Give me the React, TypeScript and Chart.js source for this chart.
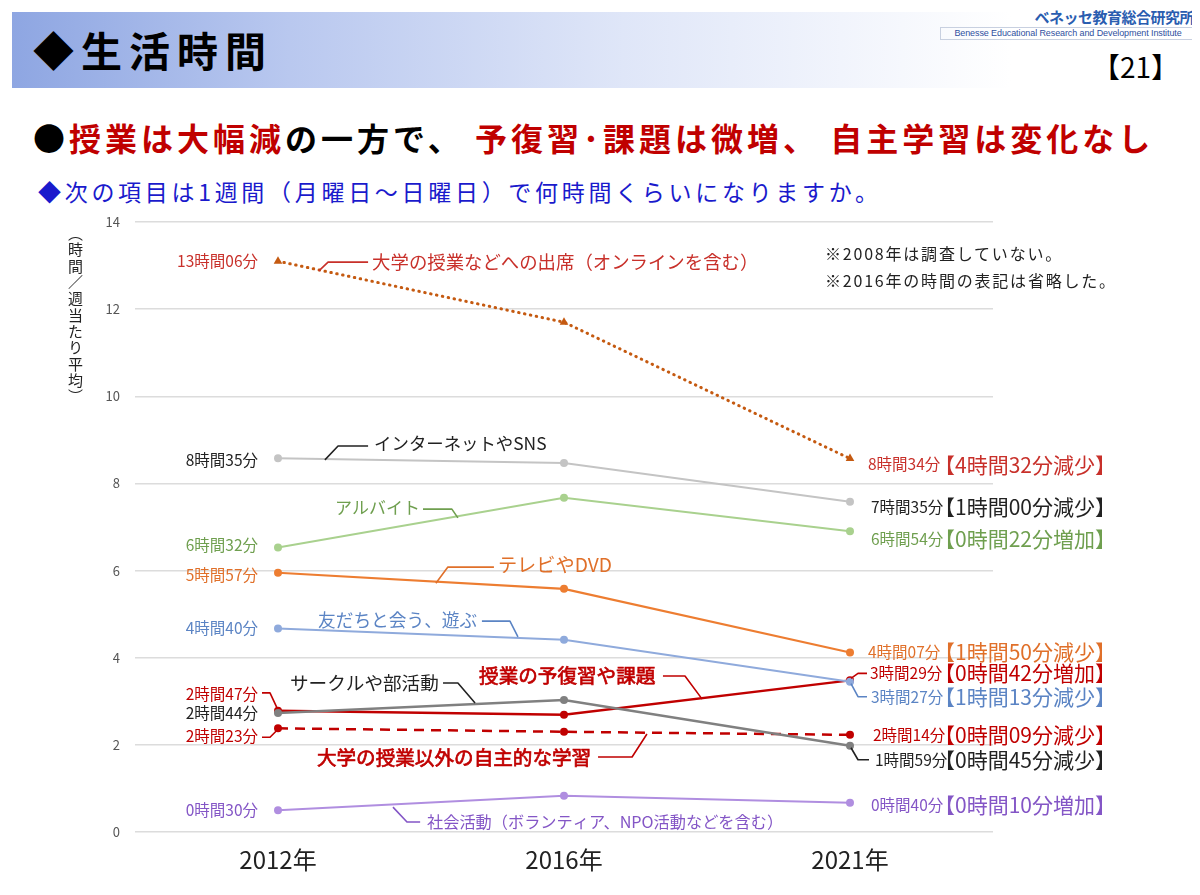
import React, { useEffect, useRef } from 'react';
import { Chart, registerables } from 'chart.js';

Chart.register(...registerables);

const FONT = "'Noto Sans CJK JP', 'Noto Sans', sans-serif";

// ---- data ----
const years = ['2012年', '2016年', '2021年'];
const yTickStep = 2;
const yMax = 14;

const seriesNames = [
  '大学の授業などへの出席（オンラインを含む）',
  'インターネットやSNS',
  'アルバイト',
  'テレビやDVD',
  '友だちと会う、遊ぶ',
  'サークルや部活動',
  '授業の予復習や課題',
  '大学の授業以外の自主的な学習',
  '社会活動（ボランティア、NPO活動などを含む）',
];
const attendance = [13.1, 11.7, 8.57];
const internet = [8.58, 8.47, 7.58];
const partTime = [6.53, 7.67, 6.9];
const tvDvd = [5.95, 5.58, 4.12];
const friends = [4.67, 4.41, 3.45];
const club = [2.73, 3.03, 1.98];
const homework = [2.78, 2.69, 3.48];
const selfStudy = [2.38, 2.3, 2.23];
const social = [0.5, 0.83, 0.67];

const label2012 = ['13時間06分', '8時間35分', '6時間32分', '5時間57分', '4時間40分', '2時間44分', '2時間47分', '2時間23分', '0時間30分'];
const label2021 = ['8時間34分', '7時間35分', '6時間54分', '4時間07分', '3時間27分', '1時間59分', '3時間29分', '2時間14分', '0時間40分'];
const changeLabels = ['【4時間32分減少】', '【1時間00分減少】', '【0時間22分増加】', '【1時間50分減少】', '【1時間13分減少】', '【0時間45分減少】', '【0時間42分増加】', '【0時間09分減少】', '【0時間10分増加】'];

// ---- styles ----
const lineColors = ['#c55a11', '#c4c4c4', '#a9d18e', '#ed7d31', '#8faadc', '#808080', '#c00000', '#c00000', '#b08ee0'];
const textColors = ['#c8302a', '#222222', '#6f9f4f', '#e0702a', '#5b84c4', '#222222', '#c00000', '#c00000', '#8456c6'];
const lineWidths = [3, 2, 2, 2.2, 2, 2.5, 2.5, 2.5, 2];
const lineDashes: number[][] = [[0.5, 5.5], [], [], [], [], [], [], [10, 7], []];

// label offsets (pixels) next to the first / last point
const leftDy = [0, 2, -2, 2, 0, 0, -17, 8, 0];
const rightDy = [6, 5, 8, 0, 15, 14, -7, 0, 2];
const rightDx = [18, 21, 21, 18, 21, 25, 20, 23, 21];

// callout positions in data units [category index, hours]
const calloutAt: number[][] = [
  [0.329, 13.08], [0.336, 8.93], [0.199, 7.44], [0.769, 6.13], [0.14, 4.87],
  [0.042, 3.42], [0.703, 3.58], [0.136, 1.72], [0.521, 0.23],
];
const calloutLeader: number[][][] = [
  [[0.143, 12.88], [0.175, 13.08], [0.315, 13.08]],
  [[0.164, 8.54], [0.21, 8.86], [0.315, 8.86]],
  [[0.507, 7.41], [0.608, 7.41], [0.629, 7.21]],
  [[0.552, 5.71], [0.594, 6.08], [0.755, 6.08]],
  [[0.713, 4.84], [0.811, 4.84], [0.839, 4.48]],
  [[0.577, 3.42], [0.629, 3.42], [0.689, 2.96]],
  [[1.346, 3.58], [1.423, 3.58], [1.483, 3.05]],
  [[1.119, 1.72], [1.238, 1.72], [1.29, 2.25]],
  [[0.402, 0.57], [0.451, 0.23], [0.497, 0.23]],
];
const calloutSize = [18.4, 17.4, 17, 19.2, 17.7, 18.6, 19.6, 19.6, 16.2];
const calloutHeavy = [false, false, false, false, false, false, true, true, false];

// leader lines (pixel offsets from the point) for crowded value labels
const leftLeaders: Record<number, number[][]> = {
  6: [[-16, -18], [-8, -18], [-1, -3]],
  7: [[-16, 9], [-8, 9], [-1, 2]],
};
const rightLeaders: Record<number, number[][]> = {
  4: [[1, 2], [8, 15], [17, 15]],
  5: [[1, 2], [8, 14], [19, 14]],
  6: [[1, -2], [8, -7], [17, -7]],
};

const allSeries = [attendance, internet, partTime, tvDvd, friends, club, homework, selfStudy, social];

function drawText(ctx: CanvasRenderingContext2D, s: string, x: number, y: number, size: number, color: string, heavy = false, align: CanvasTextAlign = 'left') {
  ctx.font = `${size}px ${FONT}`;
  ctx.fillStyle = color;
  ctx.textAlign = align;
  ctx.textBaseline = 'middle';
  ctx.fillText(s, x, y);
  if (heavy) {
    ctx.strokeStyle = color;
    ctx.lineWidth = 0.7;
    ctx.setLineDash([]);
    ctx.strokeText(s, x, y);
  }
  return ctx.measureText(s).width;
}

function drawPoly(ctx: CanvasRenderingContext2D, pts: number[][], color: string, w = 1.6) {
  ctx.save();
  ctx.strokeStyle = color;
  ctx.lineWidth = w;
  ctx.setLineDash([]);
  ctx.lineJoin = 'round';
  ctx.beginPath();
  pts.forEach((p, i) => (i === 0 ? ctx.moveTo(p[0], p[1]) : ctx.lineTo(p[0], p[1])));
  ctx.stroke();
  ctx.restore();
}

const annotationPlugin = {
  id: 'annotations',
  afterDatasetsDraw(chart: any) {
    const ctx: CanvasRenderingContext2D = chart.ctx;
    const xs = chart.scales.x;
    const ys = chart.scales.y;
    const px = (i: number) => xs.getPixelForValue(i);
    const py = (v: number) => ys.getPixelForValue(v);
    ctx.save();
    allSeries.forEach((data, s) => {
      // left value label (2012)
      const x0 = px(0);
      const y0 = py(data[0]);
      drawText(ctx, label2012[s], x0 - 20, y0 + leftDy[s], 15.5, textColors[s], false, 'right');
      if (leftLeaders[s]) drawPoly(ctx, leftLeaders[s].map((p) => [x0 + p[0], y0 + p[1]]), textColors[s]);
      // right value label (2021)
      const x2 = px(2);
      const y2 = py(data[2]);
      drawText(ctx, label2021[s], x2 + rightDx[s], y2 + rightDy[s], 15.5, textColors[s]);
      drawText(ctx, changeLabels[s], x2 + 84, y2 + rightDy[s], 21, textColors[s]);
      if (rightLeaders[s]) drawPoly(ctx, rightLeaders[s].map((p) => [x2 + p[0], y2 + p[1]]), textColors[s]);
      // series name callout
      const c = calloutAt[s];
      drawText(ctx, seriesNames[s], px(c[0]), py(c[1]), calloutSize[s], textColors[s], calloutHeavy[s]);
      drawPoly(ctx, calloutLeader[s].map((p) => [px(p[0]), py(p[1])]), textColors[s]);
    });
    ctx.restore();
  },
};

export default function App() {
  const ref = useRef<HTMLCanvasElement | null>(null);
  useEffect(() => {
    if (!ref.current) return;
    const chart = new Chart(ref.current, {
      type: 'line',
      data: {
        labels: years,
        datasets: allSeries.map((d, i) => ({
          label: seriesNames[i],
          data: d,
          borderColor: lineColors[i],
          backgroundColor: lineColors[i],
          borderWidth: lineWidths[i],
          borderDash: lineDashes[i],
          borderCapStyle: i === 0 ? 'round' : 'butt',
          pointRadius: i === 0 ? 5 : 4,
          pointStyle: i === 0 ? 'triangle' : 'circle',
          pointBorderWidth: 0,
          pointBackgroundColor: lineColors[i],
          tension: 0,
          fill: false,
        })) as any,
      },
      options: {
        responsive: false,
        animation: false,
        devicePixelRatio: 1,
        layout: { padding: { left: 85, right: 207, top: 222, bottom: 23 } },
        plugins: { legend: { display: false }, tooltip: { enabled: false } },
        scales: {
          x: {
            offset: true,
            grid: { display: false },
            border: { display: false },
            ticks: { color: '#222', font: { family: FONT, size: 24 }, padding: 5 },
            afterFit: (s: any) => { s.height = 40; },
          },
          y: {
            min: 0,
            max: yMax,
            ticks: { stepSize: yTickStep, color: '#555', font: { family: FONT, size: 13 }, padding: 15 },
            grid: { color: '#dcdcdc', lineWidth: 1.5, drawTicks: false },
            border: { display: false },
            afterFit: (s: any) => { s.width = 50; },
          },
        },
      } as any,
      plugins: [annotationPlugin],
    });
    return () => chart.destroy();
  }, []);

  return (
    <div style={{ position: 'relative', margin: '-8px', width: 1200, height: 895, background: '#fff', overflow: 'hidden', fontFamily: FONT }}>
      <div style={{ position: 'absolute', left: 0, top: 0, width: 1200, height: 8, background: '#f3f3f3' }} />
      <div style={{ position: 'absolute', left: 12, top: 12, width: 1110, height: 76, background: 'linear-gradient(to right, #8ea6e2 0%, #b9c8ef 25%, #dfe6f8 55%, #ffffff 90%)' }} />
      <div style={{ position: 'absolute', left: 33, top: 21, fontSize: 41, fontWeight: 'bold', color: '#000', letterSpacing: 7, lineHeight: '56px', whiteSpace: 'nowrap' }}>◆生活時間</div>
      <div style={{ position: 'absolute', right: 6, top: 7, fontSize: 15, fontWeight: 'bold', color: '#2a5db0', lineHeight: '20px', letterSpacing: -0.5 }}>ベネッセ教育総合研究所</div>
      <div style={{ position: 'absolute', left: 940, top: 27, width: 256, height: 13, border: '1px solid #c8d0e0', boxSizing: 'border-box', fontFamily: "'Liberation Sans Narrow', 'Liberation Sans', sans-serif", fontSize: 9, letterSpacing: -0.1, color: '#3050a0', lineHeight: '11px', textAlign: 'center', whiteSpace: 'nowrap', overflow: 'hidden' }}>Benesse Educational Research and Development Institute</div>
      <div style={{ position: 'absolute', left: 1092, top: 47, fontSize: 28, color: '#000', lineHeight: '38px' }}>【21】</div>
      <div style={{ position: 'absolute', left: 33, top: 115, fontSize: 32, fontWeight: 'bold', color: '#000', letterSpacing: 4, lineHeight: '44px', whiteSpace: 'nowrap' }}>
        ●<span style={{ color: '#c00000' }}>授業は大幅減</span>の一方で、 <span style={{ color: '#c00000' }}>予復習･課題は微増、 自主学習は変化なし</span>
      </div>
      <div style={{ position: 'absolute', left: 38, top: 175, fontSize: 23, color: '#1a1acc', letterSpacing: 3.7, lineHeight: '32px', whiteSpace: 'nowrap' }}>◆次の項目は1週間（月曜日～日曜日）で何時間くらいになりますか。</div>
      <canvas ref={ref} width={1200} height={895} style={{ position: 'absolute', left: 0, top: 0, width: 1200, height: 895 }} />
      <div style={{ position: 'absolute', left: 67, top: 226, fontSize: 15, color: '#222', writingMode: 'vertical-rl', lineHeight: '16px', letterSpacing: 1.3 }}>（時間／週当たり平均）</div>
      <div style={{ position: 'absolute', left: 825, top: 240, fontSize: 16, color: '#222', lineHeight: '27px', letterSpacing: 1.8, whiteSpace: 'nowrap' }}>
        ※2008年は調査していない。<br />※2016年の時間の表記は省略した。
      </div>
    </div>
  );
}
